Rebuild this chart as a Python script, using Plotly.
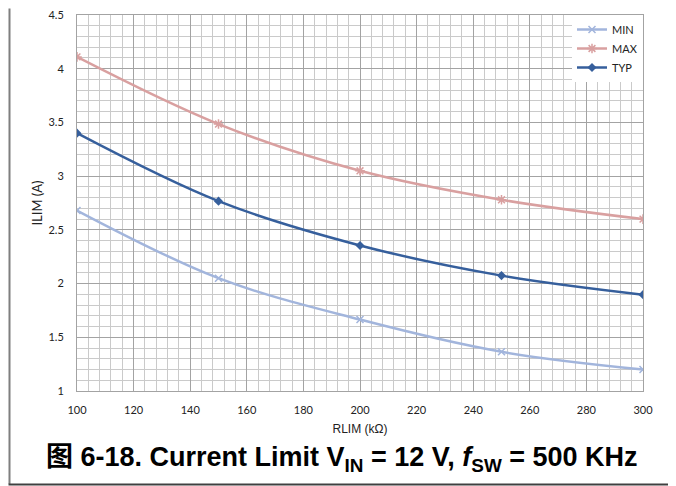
import plotly.graph_objects as go

# ---- data ----
rlim_kohm = [100, 150, 200, 250, 300]
ilim_min = [2.68, 2.05, 1.665, 1.365, 1.20]
ilim_max = [4.11, 3.485, 3.05, 2.78, 2.60]
ilim_typ = [3.40, 2.767, 2.355, 2.074, 1.897]
series_names = ["MIN", "MAX", "TYP"]

# page is offset by the default 8px body margin
OFF = 8
W, H = 676 - OFF, 486 - OFF
# plot area in page pixels: x 77..643, y 14.5..391
ML = 77 - OFF
MT = 14.5 - OFF
MR = 676 - 643
MB = 486 - 391
PW, PH = W - ML - MR, H - MT - MB


def px_x(p):
    return (p - OFF - ML) / PW


def px_y(p):
    return (H - MB - (p - OFF)) / PH


fig = go.Figure()
fig.add_trace(go.Scatter(
    x=rlim_kohm, y=ilim_min, name=series_names[0], mode="lines+markers",
    line=dict(color="#a2b5dc", width=2.5, shape="spline"),
    marker=dict(symbol="x-thin-open", size=7, color="#a2b5dc", line=dict(width=1.5, color="#a2b5dc"))))
fig.add_trace(go.Scatter(
    x=rlim_kohm, y=ilim_max, name=series_names[1], mode="lines+markers",
    line=dict(color="#d9a0a0", width=2.5, shape="spline"),
    marker=dict(symbol="asterisk-open", size=8, color="#d9a0a0", line=dict(width=1.5, color="#d9a0a0"))))
fig.add_trace(go.Scatter(
    x=rlim_kohm, y=ilim_typ, name=series_names[2], mode="lines+markers",
    line=dict(color="#365f9c", width=2.5, shape="spline"),
    marker=dict(symbol="diamond", size=7, color="#365f9c")))

tick_font = dict(family="Lato, Liberation Sans, sans-serif", size=11, color="#222")

fig.update_xaxes(
    range=[100, 300], dtick=20, tick0=100, showgrid=True, gridcolor="#a3a3a3", gridwidth=1,
    minor=dict(dtick=4, showgrid=True, gridcolor="#cacaca", gridwidth=1),
    showline=True, mirror=True, linecolor="#a3a3a3", linewidth=1, zeroline=False,
    ticks="", tickfont=tick_font, ticklabelstandoff=9, ticklabeloverflow="allow", automargin=False,
    title=dict(text="RLIM (kΩ)", font=dict(family="Liberation Sans, sans-serif", size=12, color="#222"), standoff=9))
fig.update_yaxes(
    range=[1, 4.5], dtick=0.5, tick0=1, showgrid=True, gridcolor="#a3a3a3", gridwidth=1,
    minor=dict(dtick=0.1, showgrid=True, gridcolor="#cacaca", gridwidth=1),
    showline=True, mirror=True, linecolor="#a3a3a3", linewidth=1, zeroline=False,
    ticks="", tickfont=tick_font, ticklabelstandoff=10, ticklabeloverflow="allow", automargin=False,
    title=dict(text="ILIM (A)", font=dict(family="Lato, Liberation Sans, sans-serif", size=13, color="#222"), standoff=2))

# frame lines around the figure
fig.add_shape(type="line", xref="paper", yref="paper", x0=px_x(9.5), x1=px_x(9.5), y0=px_y(OFF), y1=px_y(484),
              line=dict(color="#7f7f7f", width=2))
fig.add_shape(type="line", xref="paper", yref="paper", x0=px_x(673.5), x1=px_x(673.5), y0=px_y(OFF), y1=px_y(484),
              line=dict(color="#7f7f7f", width=2))
fig.add_shape(type="line", xref="paper", yref="paper", x0=px_x(8.5), x1=px_x(674.5), y0=px_y(484.5), y1=px_y(484.5),
              line=dict(color="#404040", width=2))

fig.add_annotation(
    xref="paper", yref="paper", x=px_x(342), y=px_y(459), xanchor="center", yanchor="middle",
    showarrow=False,
    text="<b>图 6-18. Current Limit V<sub>IN</sub> = 12 V, <i>f</i><sub>SW</sub> = 500 KHz</b>",
    font=dict(family="Liberation Sans, Noto Sans CJK SC, sans-serif", size=27, color="#000"))

fig.update_layout(
    width=W, height=H, margin=dict(l=ML, r=MR, t=MT, b=MB, autoexpand=False),
    paper_bgcolor="white", plot_bgcolor="white",
    legend=dict(x=1, y=1, xanchor="right", yanchor="top", bgcolor="white",
                font=dict(family="Lato, Liberation Sans, sans-serif", size=11, color="#222"),
                itemwidth=30, tracegroupgap=0),
    showlegend=True)

fig.write_html("out.html", config={"displayModeBar": False})
